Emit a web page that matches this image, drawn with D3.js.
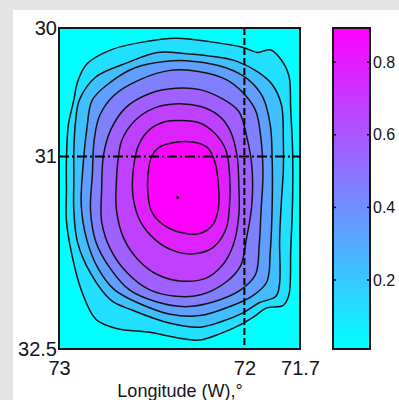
<!DOCTYPE html>
<html>
<head>
<meta charset="utf-8">
<script src="https://cdn.jsdelivr.net/npm/d3@7"></script>
<style>
  html, body { margin: 0; padding: 0; background: #e4e4e4; }
  svg { display: block; }
  text { font-family: "Liberation Sans", Arial, sans-serif; fill: #141420; }
</style>
</head>
<body>
<svg id="chart" width="399" height="400"></svg>
<script>
// Axis ticks
const lonTicks = [73, 72, 71.7];
const latTicks = [30, 31, 32.5];
const colorTicks = [0.2, 0.4, 0.6, 0.8];

// Contour levels and colour range of the field
const levels = [0.1, 0.2, 0.3, 0.4, 0.5, 0.6, 0.7, 0.8];
const colorRange = [0.01, 0.894];

// Reference lines and peak location (lon W, lat N)
const refLon = 72;
const refLat = 31;
const peak = [72.36, 31.32];

// Contour rings, one per level, as [lon, lat] pairs
const ring01 = [[72.85,30.28],[72.72,30.17],[72.55,30.11],[72.37,30.08],[72.17,30.11],[72.01,30.15],[71.93,30.19],[71.86,30.17],[71.80,30.25],[71.76,30.37],[71.75,30.64],[71.74,30.95],[71.74,31.34],[71.75,31.73],[71.76,32.08],[71.79,32.16],[71.88,32.18],[71.95,32.25],[72.02,32.31],[72.13,32.38],[72.24,32.43],[72.37,32.41],[72.51,32.37],[72.69,32.34],[72.80,32.27],[72.88,32.04],[72.93,31.77],[72.96,31.50],[72.96,31.26],[72.96,31.03],[72.95,30.76],[72.92,30.56],[72.90,30.42]];
const ring02 = [[72.91,30.72],[72.89,30.56],[72.80,30.38],[72.63,30.27],[72.47,30.19],[72.31,30.20],[72.13,30.23],[72.04,30.26],[71.93,30.34],[71.85,30.44],[71.80,30.60],[71.79,30.87],[71.79,31.11],[71.80,31.34],[71.81,31.65],[71.81,31.99],[71.83,32.09],[71.92,32.14],[72.01,32.22],[72.13,32.29],[72.24,32.33],[72.40,32.30],[72.60,32.20],[72.72,32.12],[72.83,31.91],[72.90,31.67],[72.92,31.42],[72.92,31.18],[72.92,30.95]];
const ring03 = [[72.85,30.79],[72.82,30.56],[72.72,30.42],[72.59,30.31],[72.43,30.26],[72.27,30.26],[72.10,30.31],[71.98,30.40],[71.90,30.54],[71.86,30.76],[71.85,31.03],[71.85,31.38],[71.86,31.73],[71.88,31.98],[71.96,32.09],[72.08,32.17],[72.24,32.24],[72.40,32.23],[72.56,32.15],[72.70,32.04],[72.79,31.87],[72.85,31.65],[72.88,31.38],[72.87,31.07]];
const ring04 = [[72.81,30.87],[72.78,30.68],[72.70,30.52],[72.56,30.40],[72.40,30.33],[72.24,30.34],[72.10,30.40],[72.01,30.50],[71.94,30.64],[71.91,30.87],[71.90,31.14],[71.91,31.42],[71.92,31.69],[71.94,31.92],[72.02,32.04],[72.16,32.13],[72.32,32.17],[72.48,32.13],[72.62,32.04],[72.72,31.88],[72.80,31.67],[72.83,31.42],[72.82,31.14]];
const ring05 = [[72.76,30.99],[72.72,30.79],[72.64,30.62],[72.51,30.51],[72.37,30.47],[72.24,30.48],[72.12,30.55],[72.03,30.65],[71.99,30.83],[71.96,31.07],[71.96,31.38],[71.99,31.65],[72.02,31.85],[72.10,31.98],[72.24,32.08],[72.37,32.09],[72.51,32.04],[72.63,31.91],[72.72,31.73],[72.77,31.51],[72.77,31.26]];
const ring06 = [[72.68,31.01],[72.66,30.87],[72.59,30.72],[72.48,30.62],[72.36,30.59],[72.24,30.61],[72.14,30.68],[72.08,30.79],[72.04,30.99],[72.03,31.22],[72.03,31.46],[72.06,31.69],[72.12,31.85],[72.21,31.95],[72.35,31.97],[72.47,31.92],[72.57,31.81],[72.65,31.64],[72.69,31.42],[72.69,31.18]];
const ring07 = [[72.60,31.11],[72.57,30.91],[72.51,30.79],[72.43,30.73],[72.34,30.72],[72.24,30.74],[72.16,30.82],[72.10,30.95],[72.08,31.14],[72.08,31.38],[72.10,31.57],[72.17,31.71],[72.28,31.76],[72.39,31.73],[72.48,31.65],[72.56,31.51],[72.60,31.32]];
const ring08 = [[72.52,31.14],[72.50,31.00],[72.46,30.93],[72.37,30.89],[72.27,30.89],[72.20,30.93],[72.16,31.04],[72.14,31.22],[72.14,31.40],[72.17,31.53],[72.24,31.60],[72.35,31.59],[72.44,31.53],[72.50,31.43],[72.52,31.30]];
const rings = [ring01, ring02, ring03, ring04, ring05, ring06, ring07, ring08];

const svg = d3.select("#chart");

// White figure panel on the grey window
svg.append("rect").attr("x", 13).attr("y", 10).attr("width", 386).attr("height", 390).attr("fill", "#ffffff");

const plot = { left: 59, top: 28, right: 300, bottom: 349 };
const x = d3.scaleLinear().domain([73, 71.7]).range([plot.left, plot.right]);
const y = d3.scaleLinear().domain([30, 32.5]).range([plot.top, plot.bottom]);

// "cool" colormap: cyan -> magenta
const cool = d3.interpolateRgb("#00ffff", "#ff00ff");
const bandColor = i => cool(i / levels.length);

svg.append("clipPath").attr("id", "plotClip")
  .append("rect").attr("x", plot.left).attr("y", plot.top)
  .attr("width", plot.right - plot.left).attr("height", plot.bottom - plot.top);

const g = svg.append("g").attr("clip-path", "url(#plotClip)");

// lowest band fills the whole map
g.append("rect").attr("x", plot.left).attr("y", plot.top)
  .attr("width", plot.right - plot.left).attr("height", plot.bottom - plot.top)
  .attr("fill", bandColor(0));

const ringPath = d3.line()
  .x(d => x(d[0])).y(d => y(d[1]))
  .curve(d3.curveCatmullRomClosed.alpha(0.5));

// filled bands, outer to inner
g.selectAll("path.band").data(rings).join("path")
  .attr("class", "band")
  .attr("d", ringPath)
  .attr("fill", (d, i) => bandColor(i + 1));

// contour lines
g.selectAll("path.iso").data(rings).join("path")
  .attr("class", "iso")
  .attr("d", ringPath)
  .attr("fill", "none")
  .attr("stroke", "#141414")
  .attr("stroke-width", 1.5);

// reference lines
g.append("line")
  .attr("x1", plot.left).attr("x2", plot.right)
  .attr("y1", y(refLat)).attr("y2", y(refLat))
  .attr("stroke", "#000").attr("stroke-width", 2)
  .attr("stroke-dasharray", "10,3,2,3");
g.append("line")
  .attr("x1", x(refLon)).attr("x2", x(refLon))
  .attr("y1", plot.top).attr("y2", plot.bottom)
  .attr("stroke", "#000").attr("stroke-width", 2)
  .attr("stroke-dasharray", "7,3");

// peak marker
g.append("circle").attr("cx", x(peak[0])).attr("cy", y(peak[1])).attr("r", 1.5).attr("fill", "#000");

// frame
svg.append("rect").attr("x", plot.left).attr("y", plot.top)
  .attr("width", plot.right - plot.left).attr("height", plot.bottom - plot.top)
  .attr("fill", "none").attr("stroke", "#151515").attr("stroke-width", 2);

// axes
const yAxis = svg.append("g").attr("transform", `translate(${plot.left},0)`)
  .call(d3.axisLeft(y).tickValues(latTicks).tickFormat(d3.format("")).tickSize(0).tickPadding(2));
const xAxis = svg.append("g").attr("transform", `translate(0,${plot.bottom})`)
  .call(d3.axisBottom(x).tickValues(lonTicks).tickFormat(d3.format("")).tickSize(0).tickPadding(12));
[yAxis, xAxis].forEach(a => {
  a.select(".domain").remove();
  a.selectAll("text").attr("font-size", 20).attr("font-family", "Liberation Sans, Arial, sans-serif").attr("fill", "#141420");
});

svg.append("text")
  .attr("x", 180).attr("y", 397)
  .attr("text-anchor", "middle")
  .attr("font-size", 18)
  .text("Longitude (W),°");

// colour bar
const cb = { left: 333, right: 370 };
const c = d3.scaleLinear().domain(colorRange).range([plot.bottom, plot.top]);
const grad = svg.append("defs").append("linearGradient")
  .attr("id", "coolGrad").attr("x1", 0).attr("y1", 1).attr("x2", 0).attr("y2", 0);
d3.range(0, 1.0001, 0.125).forEach(t => {
  grad.append("stop").attr("offset", t).attr("stop-color", cool(t));
});
svg.append("rect").attr("x", cb.left).attr("y", plot.top)
  .attr("width", cb.right - cb.left).attr("height", plot.bottom - plot.top)
  .attr("fill", "url(#coolGrad)")
  .attr("stroke", "#151515").attr("stroke-width", 2);

svg.selectAll("line.cbtickL").data(colorTicks).join("line")
  .attr("class", "cbtickL")
  .attr("x1", cb.left).attr("x2", cb.left + 3)
  .attr("y1", d => c(d)).attr("y2", d => c(d))
  .attr("stroke", "#000").attr("stroke-width", 1.5);
svg.selectAll("line.cbtickR").data(colorTicks).join("line")
  .attr("class", "cbtickR")
  .attr("x1", cb.right - 3).attr("x2", cb.right)
  .attr("y1", d => c(d)).attr("y2", d => c(d))
  .attr("stroke", "#000").attr("stroke-width", 1.5);

const cAxis = svg.append("g").attr("transform", `translate(${cb.right},0)`)
  .call(d3.axisRight(c).tickValues(colorTicks).tickFormat(d3.format(".1f")).tickSize(0).tickPadding(3));
cAxis.select(".domain").remove();
cAxis.selectAll("text").attr("font-size", 16).attr("font-family", "Liberation Sans, Arial, sans-serif").attr("fill", "#141420");
</script>
</body>
</html>
